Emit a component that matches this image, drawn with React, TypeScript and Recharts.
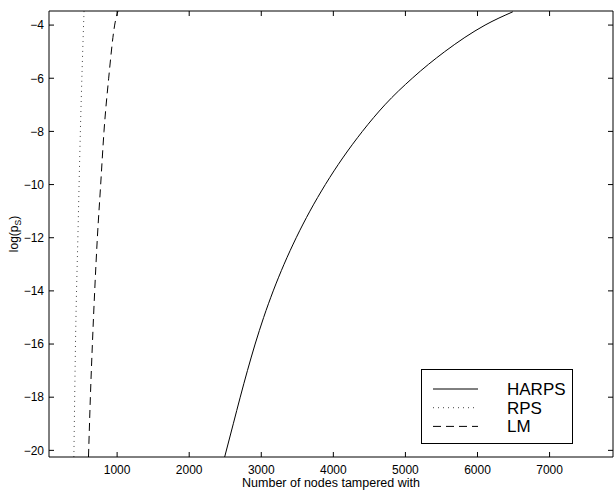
import React from "react";
import { LineChart, Line, XAxis, YAxis, Legend, Label } from "recharts";

// tick positions
const xTicks = [1000, 2000, 3000, 4000, 5000, 6000, 7000];
const yTicks = [-20, -18, -16, -14, -12, -10, -8, -6, -4];

// HARPS (solid)
const harpsX = [2492, 2612, 2708, 2808, 2915, 3033, 3166, 3316, 3485, 3675, 3889, 4130, 4403, 4715, 5095, 5545, 6105, 6490];
const harpsY = [-20.25, -19, -18, -17, -16, -15, -14, -13, -12, -11, -10, -9, -8, -7, -6, -5, -4, -3.5];

// RPS (dotted)
const rpsX = [400, 425, 457, 490, 541];
const rpsY = [-20.25, -15.6, -11.83, -8.02, -3.47];

// LM (dashed)
const lmX = [603, 629, 657, 689, 726, 772, 818, 883, 966, 1012];
const lmY = [-20.25, -18, -16, -14, -12, -10, -8, -6, -4, -3.47];

const xDomain = [55, 7880];
const yDomain = [-20.25, -3.47];

const font = '"Liberation Sans", Arial, Helvetica, sans-serif';
const TICK = 5;

const toPoints = (xs: number[], ys: number[]) => xs.map((x, i) => ({ x, y: ys[i] }));

// HARPS is bound to the top/right axes (same scales) so the box frame gets drawn
const series = [
  { name: "HARPS", data: toPoints(harpsX, harpsY), stroke: "#000", dash: undefined as string | undefined, xId: "top", yId: "right" },
  { name: "RPS", data: toPoints(rpsX, rpsY), stroke: "#444", dash: "1 4", xId: 0, yId: 0 },
  { name: "LM", data: toPoints(lmX, lmY), stroke: "#000", dash: "8 5", xId: 0, yId: 0 },
];

const minus = (v: number) => (v < 0 ? `\u2212${-v}` : `${v}`);

// matlab style ticks: short marks pointing into the plot box
function BottomTick({ x, y, payload }: any) {
  return (
    <g>
      <line x1={x} x2={x} y1={y - 8} y2={y - 8 - TICK} stroke="#000" />
      <text x={x} y={y + 8.5} textAnchor="middle" fontFamily={font} fontSize={12} fill="#000">
        {payload.value}
      </text>
    </g>
  );
}

function LeftTick({ x, y, payload }: any) {
  return (
    <g>
      <line x1={x + 5} x2={x + 5 + TICK} y1={y} y2={y} stroke="#000" />
      <text x={x} y={y + 4.3} textAnchor="end" fontFamily={font} fontSize={12} fill="#000">
        {minus(payload.value)}
      </text>
    </g>
  );
}

function TopTick({ x, y }: any) {
  return <line x1={x} x2={x} y1={y} y2={y + TICK} stroke="#000" />;
}

function RightTick({ x, y }: any) {
  return <line x1={x} x2={x - TICK} y1={y} y2={y} stroke="#000" />;
}

function YLabel(props: any) {
  const vb = props.viewBox || {};
  const cx = vb.x + 17.5;
  const cy = vb.y + vb.height / 2;
  return (
    <text
      x={cx}
      y={cy}
      transform={`rotate(-90, ${cx}, ${cy})`}
      textAnchor="middle"
      fontFamily={font}
      fontSize={12}
      fill="#000"
    >
      log(p
      <tspan fontSize={8.5} dy={3}>S</tspan>
      <tspan dy={-3}>)</tspan>
    </text>
  );
}

function LegendBox() {
  return (
    <div
      style={{
        position: "absolute",
        left: 421,
        top: 369,
        width: 150,
        height: 73,
        border: "1px solid #000",
        background: "#fff",
      }}
    >
      <svg width={150} height={73} style={{ display: "block" }}>
        {series.map((s, i) => {
          const y = 19 + i * 18.7;
          return (
            <g key={s.name}>
              <line x1={11} x2={56} y1={y} y2={y} stroke={s.stroke} strokeWidth={1} strokeDasharray={s.dash} />
              <text x={85} y={y + 6} fontFamily={font} fontSize={17} fill="#000">
                {s.name}
              </text>
            </g>
          );
        })}
      </svg>
    </div>
  );
}

export default function App() {
  return (
    <div style={{ position: "absolute", left: 0, top: 0, width: 615, height: 490, background: "#fff" }}>
      <LineChart width={615} height={490} margin={{ top: 10, right: 1, bottom: 0, left: 0 }}>
        <XAxis
          type="number"
          dataKey="x"
          domain={xDomain}
          allowDataOverflow
          ticks={xTicks}
          height={33}
          stroke="#000"
          tickLine={false}
          tickSize={0}
          tickMargin={8}
          tick={<BottomTick />}
        >
          <Label
            value="Number of nodes tampered with"
            position="insideBottom"
            offset={3}
            style={{ fill: "#000", fontSize: 12.5, fontFamily: font }}
          />
        </XAxis>
        <XAxis
          xAxisId="top"
          orientation="top"
          type="number"
          dataKey="x"
          domain={xDomain}
          allowDataOverflow
          ticks={xTicks}
          height={1}
          stroke="#000"
          tickLine={false}
          tickSize={0}
          tickMargin={0}
          tick={<TopTick />}
        />
        <YAxis
          type="number"
          dataKey="y"
          domain={yDomain}
          allowDataOverflow
          ticks={yTicks}
          width={49}
          stroke="#000"
          tickLine={false}
          tickSize={0}
          tickMargin={5}
          tick={<LeftTick />}
        >
          <Label content={<YLabel />} />
        </YAxis>
        <YAxis
          yAxisId="right"
          orientation="right"
          type="number"
          dataKey="y"
          domain={yDomain}
          allowDataOverflow
          ticks={yTicks}
          width={1}
          stroke="#000"
          tickLine={false}
          tickSize={0}
          tickMargin={0}
          tick={<RightTick />}
        />
        <Legend
          layout="horizontal"
          verticalAlign="middle"
          align="center"
          content={() => <LegendBox />}
          wrapperStyle={{ position: "absolute", left: 0, top: 0, width: 0, height: 0 }}
        />
        {series.map((s) => (
          <Line
            key={s.name}
            data={s.data}
            xAxisId={s.xId}
            yAxisId={s.yId}
            dataKey="y"
            name={s.name}
            type="monotone"
            stroke={s.stroke}
            strokeWidth={1}
            strokeDasharray={s.dash}
            dot={false}
            activeDot={false}
            isAnimationActive={false}
          />
        ))}
      </LineChart>
    </div>
  );
}
